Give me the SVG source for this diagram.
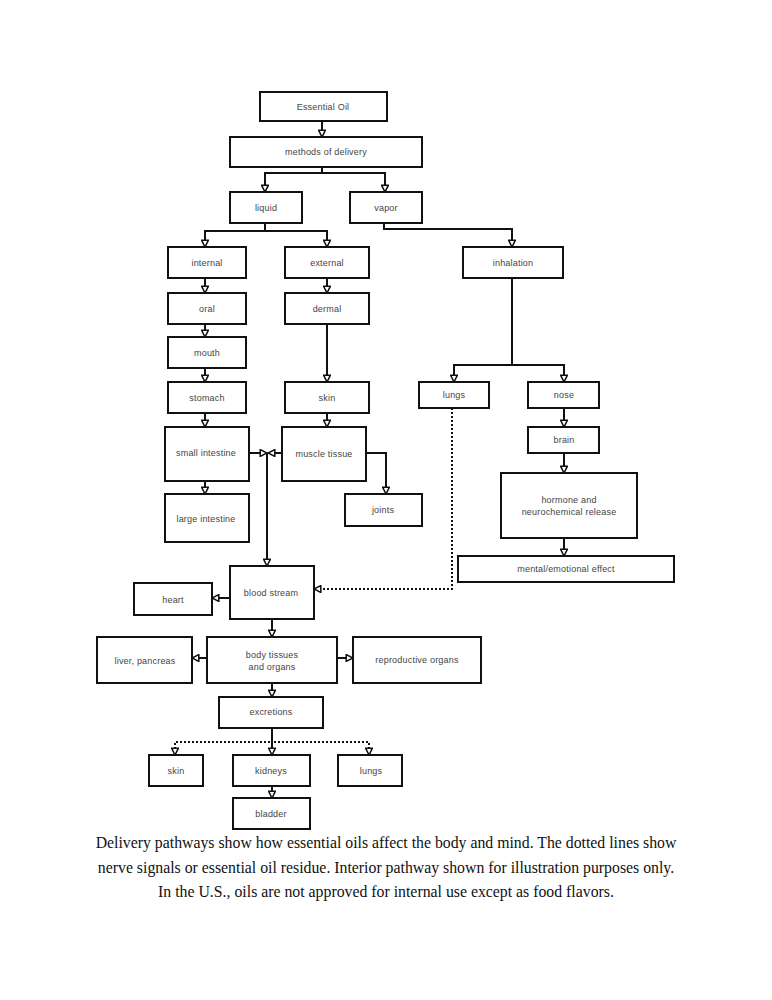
<svg xmlns="http://www.w3.org/2000/svg" width="772" height="1000" viewBox="0 0 772 1000">
<style>
.box{fill:#fff;stroke:#111;stroke-width:2}
.lbl{font-family:"Liberation Sans",Arial,sans-serif;font-size:9px;fill:#444;text-anchor:middle;dominant-baseline:central;letter-spacing:0.2px}
.c{fill:none;stroke:#111;stroke-width:2}
.d{fill:none;stroke:#111;stroke-width:2;stroke-dasharray:2 2}
.cap{font-family:"Liberation Serif","Times New Roman",serif;font-size:15.8px;fill:#111;text-anchor:middle}
</style>
<defs>
<marker id="ah" viewBox="0 0 10 10" refX="9" refY="5" markerWidth="8.5" markerHeight="8.5" markerUnits="userSpaceOnUse" orient="auto">
<path d="M1,1 L9,5 L1,9 z" fill="#fff" stroke="#111" stroke-width="1.8"/>
</marker>
</defs>
<rect width="772" height="1000" fill="#fff"/>
<g id="connectors">
<path class="c" d="M322,121 V137" marker-end="url(#ah)"/>
<path class="c" d="M322,167 V173 H265 V192" marker-end="url(#ah)"/>
<path class="c" d="M322,173 H385 V192" marker-end="url(#ah)"/>
<path class="c" d="M265,223 V231 H205 V247" marker-end="url(#ah)"/>
<path class="c" d="M265,231 H327 V247" marker-end="url(#ah)"/>
<path class="c" d="M384,223 V229 H512 V247" marker-end="url(#ah)"/>
<path class="c" d="M205,278 V293" marker-end="url(#ah)"/>
<path class="c" d="M205,324 V337" marker-end="url(#ah)"/>
<path class="c" d="M205,368 V382" marker-end="url(#ah)"/>
<path class="c" d="M205,413 V427" marker-end="url(#ah)"/>
<path class="c" d="M205,481 V494" marker-end="url(#ah)"/>
<path class="c" d="M327,278 V293" marker-end="url(#ah)"/>
<path class="c" d="M327,324 V382" marker-end="url(#ah)"/>
<path class="c" d="M327,413 V427" marker-end="url(#ah)"/>
<path class="c" d="M249,453 H267" marker-end="url(#ah)"/>
<path class="c" d="M282,453 H268" marker-end="url(#ah)"/>
<path class="c" d="M267,453 V566" marker-end="url(#ah)"/>
<path class="c" d="M366,453 H386 V494" marker-end="url(#ah)"/>
<path class="c" d="M512,278 V365 H454 V382" marker-end="url(#ah)"/>
<path class="c" d="M512,365 H564 V382" marker-end="url(#ah)"/>
<path class="c" d="M564,408 V427" marker-end="url(#ah)"/>
<path class="c" d="M564,453 V473" marker-end="url(#ah)"/>
<path class="c" d="M564,538 V556" marker-end="url(#ah)"/>
<path class="d" d="M452,408 V589 H314" marker-end="url(#ah)"/>
<path class="c" d="M230,598 H212" marker-end="url(#ah)"/>
<path class="c" d="M272,619 V637" marker-end="url(#ah)"/>
<path class="c" d="M207,658 H192" marker-end="url(#ah)"/>
<path class="c" d="M337,658 H353" marker-end="url(#ah)"/>
<path class="c" d="M272,683 V697" marker-end="url(#ah)"/>
<path class="c" d="M272,728 V755" marker-end="url(#ah)"/>
<path class="d" d="M270,742 H175 V755" marker-end="url(#ah)"/>
<path class="d" d="M274,742 H369 V755" marker-end="url(#ah)"/>
<path class="c" d="M272,786 V798" marker-end="url(#ah)"/>
</g>
<g id="n-essential"><rect class="box" x="260" y="92" width="127" height="29"/><text class="lbl" x="323" y="106.5">Essential Oil</text></g>
<g id="n-methods"><rect class="box" x="230" y="137" width="192" height="30"/><text class="lbl" x="326" y="152">methods of delivery</text></g>
<g id="n-liquid"><rect class="box" x="230" y="192" width="72" height="31"/><text class="lbl" x="266" y="207.5">liquid</text></g>
<g id="n-vapor"><rect class="box" x="350" y="192" width="72" height="31"/><text class="lbl" x="386" y="207.5">vapor</text></g>
<g id="n-internal"><rect class="box" x="168" y="247" width="78" height="31"/><text class="lbl" x="207" y="262.5">internal</text></g>
<g id="n-external"><rect class="box" x="285" y="247" width="84" height="31"/><text class="lbl" x="327" y="262.5">external</text></g>
<g id="n-inhalation"><rect class="box" x="463" y="247" width="100" height="31"/><text class="lbl" x="513" y="262.5">inhalation</text></g>
<g id="n-oral"><rect class="box" x="168" y="293" width="78" height="31"/><text class="lbl" x="207" y="308.5">oral</text></g>
<g id="n-dermal"><rect class="box" x="285" y="293" width="84" height="31"/><text class="lbl" x="327" y="308.5">dermal</text></g>
<g id="n-mouth"><rect class="box" x="168" y="337" width="78" height="31"/><text class="lbl" x="207" y="352.5">mouth</text></g>
<g id="n-stomach"><rect class="box" x="168" y="382" width="78" height="31"/><text class="lbl" x="207" y="397.5">stomach</text></g>
<g id="n-skin"><rect class="box" x="285" y="382" width="84" height="31"/><text class="lbl" x="327" y="397.5">skin</text></g>
<g id="n-lungs"><rect class="box" x="419" y="382" width="70" height="26"/><text class="lbl" x="454" y="395">lungs</text></g>
<g id="n-nose"><rect class="box" x="528" y="382" width="71" height="26"/><text class="lbl" x="564" y="395">nose</text></g>
<g id="n-small-intestine"><rect class="box" x="165" y="427" width="84" height="54"/><text class="lbl" x="206" y="453">small intestine</text></g>
<g id="n-muscle"><rect class="box" x="282" y="427" width="84" height="54"/><text class="lbl" x="324" y="454">muscle tissue</text></g>
<g id="n-brain"><rect class="box" x="528" y="427" width="71" height="26"/><text class="lbl" x="564" y="440">brain</text></g>
<g id="n-hormone"><rect class="box" x="501" y="473" width="136" height="65"/><text class="lbl" x="569" y="500">hormone and</text><text class="lbl" x="569" y="512">neurochemical release</text></g>
<g id="n-large-intestine"><rect class="box" x="165" y="494" width="84" height="48"/><text class="lbl" x="206" y="519">large intestine</text></g>
<g id="n-joints"><rect class="box" x="345" y="494" width="77" height="32"/><text class="lbl" x="383" y="510">joints</text></g>
<g id="n-mental"><rect class="box" x="458" y="556" width="216" height="26"/><text class="lbl" x="566" y="569">mental/emotional effect</text></g>
<g id="n-blood"><rect class="box" x="230" y="566" width="84" height="53"/><text class="lbl" x="271" y="593">blood stream</text></g>
<g id="n-heart"><rect class="box" x="134" y="583" width="78" height="32"/><text class="lbl" x="173" y="600">heart</text></g>
<g id="n-body"><rect class="box" x="207" y="637" width="130" height="46"/><text class="lbl" x="272" y="655">body tissues</text><text class="lbl" x="272" y="667">and organs</text></g>
<g id="n-liver"><rect class="box" x="97" y="637" width="95" height="46"/><text class="lbl" x="145" y="661">liver, pancreas</text></g>
<g id="n-repro"><rect class="box" x="353" y="637" width="128" height="46"/><text class="lbl" x="417" y="660">reproductive organs</text></g>
<g id="n-excretions"><rect class="box" x="219" y="697" width="104" height="31"/><text class="lbl" x="271" y="712">excretions</text></g>
<g id="n-skin2"><rect class="box" x="149" y="755" width="54" height="31"/><text class="lbl" x="176" y="771">skin</text></g>
<g id="n-kidneys"><rect class="box" x="233" y="755" width="77" height="31"/><text class="lbl" x="271" y="771">kidneys</text></g>
<g id="n-lungs2"><rect class="box" x="338" y="755" width="64" height="31"/><text class="lbl" x="371" y="771">lungs</text></g>
<g id="n-bladder"><rect class="box" x="233" y="798" width="77" height="31"/><text class="lbl" x="271" y="814">bladder</text></g>
<g id="caption">
<text class="cap" x="386" y="848">Delivery pathways show how essential oils affect the body and mind. The dotted lines show</text>
<text class="cap" x="386" y="873">nerve signals or essential oil residue. Interior pathway shown for illustration purposes only.</text>
<text class="cap" x="386" y="897">In the U.S., oils are not approved for internal use except as food flavors.</text>
</g>
</svg>
